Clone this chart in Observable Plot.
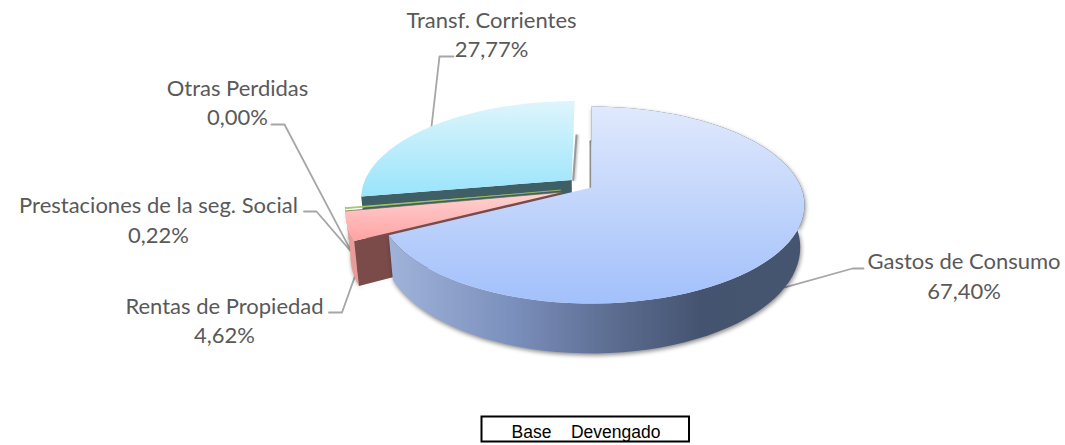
<!DOCTYPE html>
<html><head><meta charset="utf-8">
<style>
html,body{margin:0;padding:0;background:#fff}
g.depth{filter:drop-shadow(1px 2px 2px rgba(0,0,0,.45))}
g.soft{filter:drop-shadow(1px 0 1px rgba(0,0,0,.3))}
g.faces{filter:blur(.35px)}
</style>
<script src="https://cdn.jsdelivr.net/npm/d3@7"></script>
<script src="https://cdn.jsdelivr.net/npm/@observablehq/plot@0.6"></script>
</head><body><div id="root"></div>
<script>
// data, clockwise from 12 o'clock
const sliceNames = ["Gastos de Consumo","Rentas de Propiedad","Prestaciones de la seg. Social","Otras Perdidas","Transf. Corrientes"];
const slicePct = [67.40,4.62,0.22,0.00,27.77];
const pctLabels = ["67,40%","4,62%","0,22%","0,00%","27,77%"];
const legendText = "Base\u00a0\u00a0\u00a0\u00a0Devengado";

// layout of the perspective pie
const P = {cx:591, cy:187, R:209.6, ry:95.4, k:0.178, h:41, taper:0.02};
const explode = [0,0.15,0.15,0.15,0.125];
const labelX = [963.5,224,158,237,491];
const labelY1 = [268,313,212,95,27];
const labelY2 = [298,342,242,124,56];
const elbowX = [852,341.5,316,284,439];
const elbowStart = [863,328.5,303.5,271,453];
const elbowY = [268,312,211,124,56];
const leaderDepth = [1,1,1,1,0];
const leaderNudge = [0,5,0,0,0];

const total = d3.sum(slicePct);
let acc = 0;
const slices = slicePct.map((p,i)=>{const a0=acc/total*2*Math.PI; acc+=p; const a1=acc/total*2*Math.PI;
  return {i,a0,a1,mid:(a0+a1)/2,d:explode[i]};});

function proj(s,theta,r,t){
  const u=r*Math.sin(theta)+s.d*Math.sin(s.mid), v=-r*Math.cos(theta)-s.d*Math.cos(s.mid);
  const f=1/(1-P.k*v);
  return {x:P.cx+P.R*u*f*(1-P.taper*t), y:P.cy+P.ry*v*f+P.h*f*t};
}
const rimPts=(s,t)=>d3.range(0,81).map(j=>proj(s,s.a0+(s.a1-s.a0)*j/80,1,t));
const topFace=s=>[proj(s,0,0,0),...rimPts(s,0)];
const wallFace=s=>[...rimPts(s,0),...rimPts(s,1).reverse()];
const cutFace=(s,a)=>[proj(s,0,0,0),proj(s,a,1,0),proj(s,a,1,1),proj(s,0,0,1)];
const backEdge=(s,a)=>[proj(s,a,1,1),proj(s,0,0,0)];
const farEdge=(s,a)=>[proj(s,a,1,0),proj(s,0,0,0)];

const [bigS,pinkS,greenS,,cyanS]=slices;
const tag=name=>(i,s,v,d,c,next)=>{const g=next(i,s,v,d,c); g.setAttribute("class",name); return g;};
const poly=(pts,fill,cls,extra={})=>Plot.line(pts,{x:"x",y:"y",fill,stroke:"none",curve:"linear",render:tag(cls),...extra});

function defs(){
  const d=d3.create("svg:defs");
  const grad=(id,horizontal,stops)=>{const g=d.append("linearGradient").attr("id",id)
      .attr("x1",0).attr("y1",0).attr("x2",horizontal?1:0).attr("y2",horizontal?0:1);
    stops.forEach(([o,c])=>g.append("stop").attr("offset",o).attr("stop-color",c));};
  grad("gBig",false,[[0,"#e0e9fc"],[1,"#a2c0fb"]]);
  grad("gCyan",false,[[0,"#def5fb"],[1,"#99e4fb"]]);
  grad("gPink",false,[[0,"#ffd3d3"],[1,"#ffa2a2"]]);
  grad("gSide",true,[[0,"#9fb3da"],[0.3,"#7b8fbc"],[0.55,"#5b6b8f"],[0.75,"#445470"],[1,"#46556f"]]);
  return d.node();
}

const leaders=slices.flatMap(s=>{
  const e=proj(s,s.mid,1,leaderDepth[s.i]);
  return [{id:s.i,x:elbowStart[s.i],y:elbowY[s.i]},{id:s.i,x:elbowX[s.i],y:elbowY[s.i]},{id:s.i,x:e.x+leaderNudge[s.i],y:e.y}];
});
const labels=slices.map(s=>({name:sliceNames[s.i],pct:pctLabels[s.i],x:labelX[s.i],y1:labelY1[s.i],y2:labelY2[s.i]}));
const labelFont={fontFamily:"Lato",fontSize:22,fill:"#595959",textAnchor:"middle",lineAnchor:"bottom"};

const svgNode=Plot.plot({
  width:1065,height:445,margin:0,
  x:{domain:[0,1065],range:[0,1065],axis:null},
  y:{domain:[0,445],range:[0,445],axis:null},
  style:{background:"#fff"},
  marks:[
    defs,
    Plot.line(leaders,{x:"x",y:"y",z:"id",stroke:"#a6a6a6",strokeWidth:1.8,curve:"linear"}),
    // back walls and cyan slice
    Plot.line(backEdge(cyanS,cyanS.a1),{x:"x",y:"y",stroke:"#9a9a9a",strokeWidth:2,dx:1.5,render:tag("soft")}),
    Plot.line(backEdge(bigS,bigS.a0),{x:"x",y:"y",stroke:"#8f8f8f",strokeWidth:2,dx:-1}),
    poly(cutFace(cyanS,cyanS.a0),"#3f5f67","faces"),
    poly(topFace(cyanS),"url(#gCyan)","faces"),
    // thin exploded slices
    poly(wallFace(greenS),"#5c6f3c","depth"),
    poly(topFace(greenS),"#a5c766","faces",{stroke:"#a5c766",strokeWidth:.8}),
    poly(wallFace(pinkS),"#e99b99","depth"),
    poly(cutFace(pinkS,pinkS.a0),"#7a4b49","faces"),
    poly(topFace(pinkS),"url(#gPink)","faces"),
    Plot.line(farEdge(pinkS,pinkS.a1),{x:"x",y:"y",stroke:"#5f6b4a",strokeWidth:.9,strokeOpacity:.8}),
    // main slice
    poly(wallFace(bigS),"url(#gSide)","depth"),
    poly(topFace(bigS),"url(#gBig)","faces"),
    // labels
    Plot.text(labels,{x:"x",y:"y1",text:"name",...labelFont}),
    Plot.text(labels,{x:"x",y:"y2",text:"pct",...labelFont}),
    // caption box
    Plot.rect([legendText],{x1:()=>481.5,x2:()=>689,y1:()=>416.5,y2:()=>441.5,fill:"#fff",stroke:"#000",strokeWidth:2}),
    Plot.text([legendText],{x:()=>585.5,y:()=>437.5,text:d=>d,fontFamily:"Liberation Sans",fontSize:17.5,fill:"#000",textAnchor:"middle",lineAnchor:"bottom"})
  ]
});
document.getElementById("root").appendChild(svgNode);
</script></body></html>
